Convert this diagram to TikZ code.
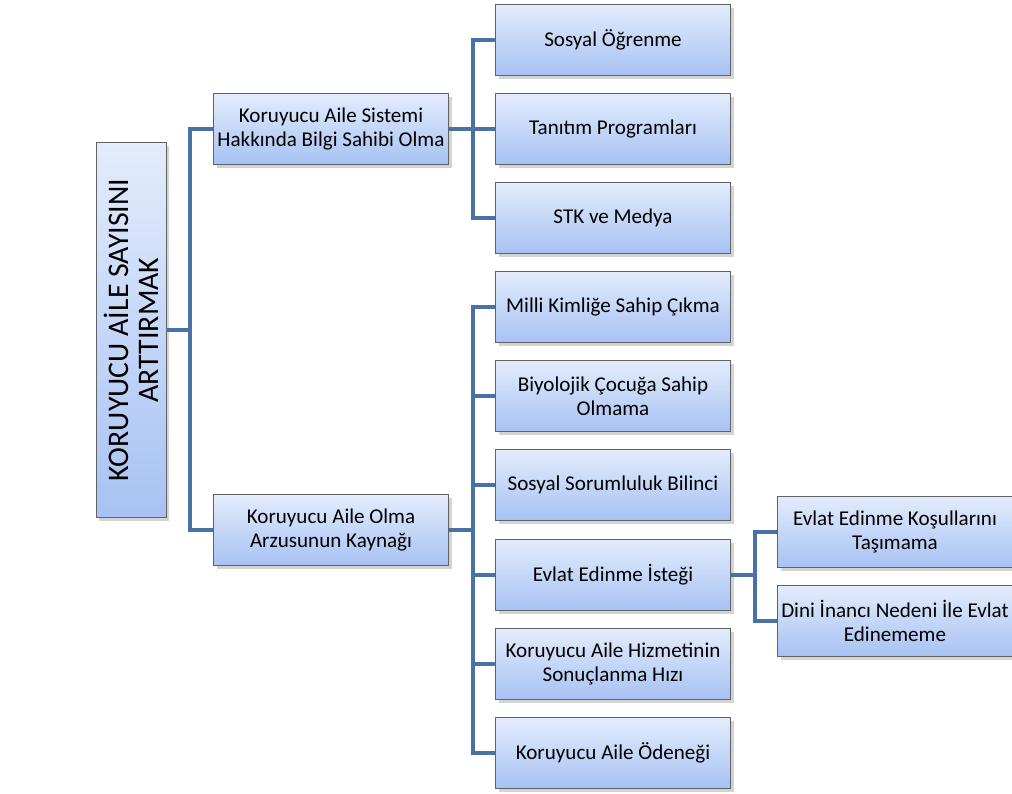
\documentclass[tikz,border=0pt]{standalone}
\usepackage{fontspec}
\setmainfont{Carlito}
\usepackage{xcolor}
\usetikzlibrary{shadows}

\definecolor{boxtop}{HTML}{E3ECFC}
\definecolor{boxbot}{HTML}{A7C2F3}
\definecolor{boxline}{HTML}{5F6368}
\definecolor{linkblue}{HTML}{4A71A6}

\begin{document}
\begin{tikzpicture}[x=0.02cm,y=-0.02cm,
  box/.style={rectangle,draw=boxline,line width=0.5pt,top color=boxtop,bottom color=boxbot,
    drop shadow={shadow xshift=1.8pt,shadow yshift=-1.8pt,opacity=0.35},
    minimum width=4.7cm,minimum height=1.42cm,inner sep=1pt,align=center,
    font=\fontsize{12}{13.5}\selectfont},
  link/.style={draw=linkblue,line width=2.2pt}]

\useasboundingbox (0,0) rectangle (1012,794);

\node(r) at (131,330)[box,rotate=90,minimum width=7.5cm,minimum height=1.4cm,
  font=\fontsize{17}{17}\selectfont] {KORUYUCU AİLE SAYISINI\\ARTTIRMAK};

\node(a) at (331,129)[box] {Koruyucu Aile Sistemi\\Hakkında Bilgi Sahibi Olma};
\node(b) at (331,530)[box] {Koruyucu Aile Olma\\Arzusunun Kaynağı};

\node(a1) at (613,40)[box] {Sosyal Öğrenme};
\node(a2) at (613,129)[box] {Tanıtım Programları};
\node(a3) at (613,218)[box] {STK ve Medya};

\node(b1) at (613,307)[box] {Milli Kimliğe Sahip Çıkma};
\node(b2) at (613,396)[box] {Biyolojik Çocuğa Sahip\\Olmama};
\node(b3) at (613,485)[box] {Sosyal Sorumluluk Bilinci};
\node(b4) at (613,575)[box] {Evlat Edinme İsteği};
\node(b5) at (613,664)[box] {Koruyucu Aile Hizmetinin\\Sonuçlanma Hızı};
\node(b6) at (613,753)[box] {Koruyucu Aile Ödeneği};

\node(c1) at (895,532)[box] {Evlat Edinme Koşullarını\\Taşımama};
\node(c2) at (895,621)[box] {Dini İnancı Nedeni İle Evlat\\Edinememe};

\coordinate(jr) at (190,330);
\coordinate(ja) at (473,129);
\coordinate(jb) at (473,530);
\coordinate(jc) at (755,575);

\begin{scope}[on background layer/.try]
\draw[link] (r.south) -- (jr);
\draw[link] (jr) |- (a.west);
\draw[link] (jr) |- (b.west);

\draw[link] (a.east) -- (ja);
\draw[link] (ja) |- (a1.west);
\draw[link] (ja) |- (a3.west);
\draw[link] (ja) -- (a2.west);

\draw[link] (b.east) -- (jb);
\draw[link] (jb) |- (b1.west);
\draw[link] (jb) |- (b6.west);
\draw[link] (jb |- b2.west) -- (b2.west);
\draw[link] (jb |- b3.west) -- (b3.west);
\draw[link] (jb |- b4.west) -- (b4.west);
\draw[link] (jb |- b5.west) -- (b5.west);

\draw[link] (b4.east) -- (jc);
\draw[link] (jc) |- (c1.west);
\draw[link] (jc) |- (c2.west);
\end{scope}

\end{tikzpicture}
\end{document}
